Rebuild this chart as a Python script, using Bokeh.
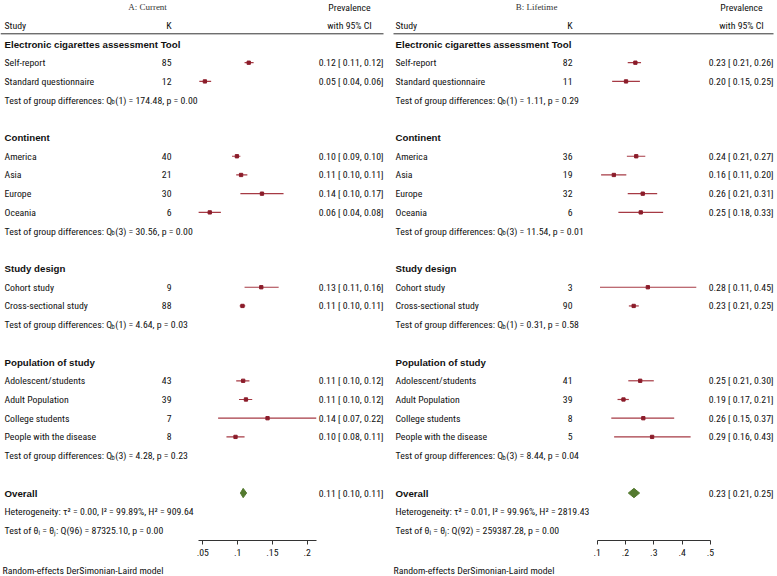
from bokeh.plotting import figure
from bokeh.models import Range1d, LinearAxis, FixedTicker, CustomJSTickFormatter, ColumnDataSource
from bokeh.core.properties import value
from bokeh.embed import file_html
from bokeh.resources import INLINE

# ------------------------------------------------------------------ data
GROUPS = ["Electronic cigarettes assessment Tool", "Continent", "Study design", "Population of study"]
SUBGROUPS = [
    ["Self-report", "Standard questionnaire"],
    ["America", "Asia", "Europe", "Oceania"],
    ["Cohort study", "Cross-sectional study"],
    ["Adolescent/students", "Adult Population", "College students", "People with the disease"],
]
TEST_DF = [1, 3, 1, 3]

# A: Current
CUR_K = [85, 12, 40, 21, 30, 6, 9, 88, 43, 39, 7, 8]
CUR_EST = [0.116, 0.053, 0.099, 0.105, 0.135, 0.060, 0.134, 0.107, 0.108, 0.112, 0.143, 0.097]
CUR_LO = [0.110, 0.045, 0.092, 0.098, 0.104, 0.044, 0.110, 0.103, 0.098, 0.102, 0.072, 0.084]
CUR_HI = [0.123, 0.062, 0.104, 0.114, 0.166, 0.076, 0.159, 0.111, 0.117, 0.121, 0.213, 0.110]
CUR_CI_TEXT = ["0.12 [ 0.11, 0.12]", "0.05 [ 0.04, 0.06]",
               "0.10 [ 0.09, 0.10]", "0.11 [ 0.10, 0.11]", "0.14 [ 0.10, 0.17]", "0.06 [ 0.04, 0.08]",
               "0.13 [ 0.11, 0.16]", "0.11 [ 0.10, 0.11]",
               "0.11 [ 0.10, 0.12]", "0.11 [ 0.10, 0.12]", "0.14 [ 0.07, 0.22]", "0.10 [ 0.08, 0.11]"]
CUR_TEST_Q = ["174.48", "30.56", "4.64", "4.28"]
CUR_TEST_P = ["0.00", "0.00", "0.03", "0.23"]
CUR_OVERALL = [0.108, 0.104, 0.113]
CUR_OVERALL_TEXT = "0.11 [ 0.10, 0.11]"
CUR_HET = "Heterogeneity: \u03c4\u00b2 = 0.00, I\u00b2 = 99.89%, H\u00b2 = 909.64"
CUR_HOM = "Test of \u03b8\u1d62 = \u03b8\u2c7c: Q(96) = 87325.10, p = 0.00"
CUR_TICKS = [0.05, 0.1, 0.15, 0.2]

# B: Lifetime
LIF_K = [82, 11, 36, 19, 32, 6, 3, 90, 41, 39, 8, 5]
LIF_EST = [0.235, 0.202, 0.238, 0.159, 0.261, 0.254, 0.279, 0.229, 0.252, 0.193, 0.263, 0.294]
LIF_LO = [0.208, 0.153, 0.205, 0.114, 0.208, 0.175, 0.110, 0.212, 0.210, 0.172, 0.150, 0.160]
LIF_HI = [0.255, 0.251, 0.270, 0.203, 0.312, 0.333, 0.450, 0.247, 0.300, 0.212, 0.372, 0.430]
LIF_CI_TEXT = ["0.23 [ 0.21, 0.26]", "0.20 [ 0.15, 0.25]",
               "0.24 [ 0.21, 0.27]", "0.16 [ 0.11, 0.20]", "0.26 [ 0.21, 0.31]", "0.25 [ 0.18, 0.33]",
               "0.28 [ 0.11, 0.45]", "0.23 [ 0.21, 0.25]",
               "0.25 [ 0.21, 0.30]", "0.19 [ 0.17, 0.21]", "0.26 [ 0.15, 0.37]", "0.29 [ 0.16, 0.43]"]
LIF_TEST_Q = ["1.11", "11.54", "0.31", "8.44"]
LIF_TEST_P = ["0.29", "0.01", "0.58", "0.04"]
LIF_OVERALL = [0.230, 0.210, 0.250]
LIF_OVERALL_TEXT = "0.23 [ 0.21, 0.25]"
LIF_HET = "Heterogeneity: \u03c4\u00b2 = 0.01, I\u00b2 = 99.96%, H\u00b2 = 2819.43"
LIF_HOM = "Test of \u03b8\u1d62 = \u03b8\u2c7c: Q(92) = 259387.28, p = 0.00"
LIF_TICKS = [0.1, 0.2, 0.3, 0.4, 0.5]

NOTE = "Random-effects DerSimonian-Laird model"

# ------------------------------------------------------------------ layout / style
W, H = 777, 576
ROW0, ROWH = 43.5, 18.71         # row 0 centre and row height in layout px
def row_of(py):
    return (py - ROW0) / ROWH

FONT_NAME = "'Roboto Condensed', 'Liberation Sans', Arial, sans-serif"
FONT = value(FONT_NAME)
BOLD_FONT = value("'Liberation Sans', Arial, sans-serif")
SERIF = value("'Liberation Serif', 'DejaVu Serif', serif")
FS_PX = 9.8
FS = "%.1fpx" % FS_PX
FS_BOLD = "9.7px"
FS_SUB = "6.5px"
TXT = "#111111"
CI_COL = "#a63a44"
MK_COL = "#8b1c2a"
DIA_COL = "#547a2f"
Q_OFF = 106.8                    # width of "Test of group differences: Q" at FS

PANELS = [
    dict(name="L", title="A: Current", k=CUR_K, est=CUR_EST, lo=CUR_LO, hi=CUR_HI, ci=CUR_CI_TEXT,
         tq=CUR_TEST_Q, tp=CUR_TEST_P, ov=CUR_OVERALL, ovt=CUR_OVERALL_TEXT, het=CUR_HET, hom=CUR_HOM,
         ticks=CUR_TICKS, zero_px=167.5, px_per_unit=696.0,
         x_study=4, x_k=171, x_ci=383, x_head=349, x_title=147, line=(0, 383), x_note=2),
    dict(name="R", title="B: Lifetime", k=LIF_K, est=LIF_EST, lo=LIF_LO, hi=LIF_HI, ci=LIF_CI_TEXT,
         tq=LIF_TEST_Q, tp=LIF_TEST_P, ov=LIF_OVERALL, ovt=LIF_OVERALL_TEXT, het=LIF_HET, hom=LIF_HOM,
         ticks=LIF_TICKS, zero_px=568.3, px_per_unit=283.3,
         x_study=395, x_k=572, x_ci=773, x_head=741, x_title=536, line=(393, 773), x_note=393),
]

p = figure(width=W, height=H, output_backend="svg", toolbar_location=None,
           x_range=Range1d(0, W), y_range=Range1d(row_of(H), row_of(0)),
           x_axis_location=None, y_axis_location=None, min_border=0,
           outline_line_color=None, background_fill_color="white", border_fill_color="white")
p.xgrid.grid_line_color = None
p.ygrid.grid_line_color = None

for pn in PANELS:
    z, s = pn["zero_px"], pn["px_per_unit"]
    p.extra_x_ranges[pn["name"]] = Range1d(-z / s, (W - z) / s)

def add_text(x, y, text, align="left", bold=False, size=FS, font=FONT, color=TXT):
    src = ColumnDataSource(dict(x=x, y=y, text=text))
    p.text(x="x", y="y", text="text", source=src, text_align=align, text_baseline="middle",
           text_font=font, text_font_size=size, text_color=color,
           text_font_style="bold" if bold else "normal")

for pn in PANELS:
    rng = pn["name"]
    # header
    add_text([pn["x_title"]], [row_of(6)], [pn["title"]], align="center", font=SERIF,
             size="9px", color="#333333")
    add_text([pn["x_head"]], [row_of(7)], ["Prevalence"], align="center")
    add_text([pn["x_head"]], [row_of(24.5)], ["with 95% CI"], align="center")
    add_text([pn["x_study"]], [row_of(24.5)], ["Study"])
    add_text([pn["x_k"]], [row_of(24.5)], ["K"], align="right")
    p.segment(x0=pn["line"][0], x1=pn["line"][1], y0=row_of(33.3), y1=row_of(33.3),
              line_color="#333333", line_width=1)

    # rows
    head_y, head_t = [], []
    lab_y, lab_t, k_t, ci_t = [], [], [], []
    t1_y, t3_t = [], []
    row, i = 0, 0
    for g, subs in enumerate(SUBGROUPS):
        head_y.append(row); head_t.append(GROUPS[g]); row += 1
        for sname in subs:
            lab_y.append(row); lab_t.append(sname)
            k_t.append(str(pn["k"][i])); ci_t.append(pn["ci"][i])
            row += 1; i += 1
        t1_y.append(row)
        t3_t.append("(%d) = %s, p = %s" % (TEST_DF[g], pn["tq"][g], pn["tp"][g]))
        row += 2
    ov_row = row
    head_y.append(ov_row); head_t.append("Overall")

    add_text([pn["x_study"]] * len(head_y), head_y, head_t, bold=True, size=FS_BOLD, font=BOLD_FONT)
    add_text([pn["x_study"]] * len(lab_y), lab_y, lab_t)
    add_text([pn["x_k"]] * len(lab_y), lab_y, k_t, align="right")
    add_text([pn["x_ci"]] * len(lab_y) + [pn["x_ci"]], lab_y + [ov_row], ci_t + [pn["ovt"]], align="right")

    # test of group differences: "... Q" + subscript b + rest
    qx = pn["x_study"] + Q_OFF
    add_text([pn["x_study"]] * len(t1_y), t1_y, ["Test of group differences: Q"] * len(t1_y))
    add_text([qx + 0.3] * len(t1_y), [y + 0.12 for y in t1_y], ["b"] * len(t1_y), size=FS_SUB)
    add_text([qx + 4.0] * len(t1_y), t1_y, t3_t)

    add_text([pn["x_study"]] * 2, [ov_row + 1, ov_row + 2], [pn["het"], pn["hom"]])
    add_text([pn["x_note"]], [row_of(570)], [NOTE])

    # CI lines + markers
    src = ColumnDataSource(dict(y=lab_y, est=pn["est"], lo=pn["lo"], hi=pn["hi"]))
    p.segment(x0="lo", x1="hi", y0="y", y1="y", source=src, x_range_name=rng,
              line_color=CI_COL, line_width=1.2)
    p.scatter(x="est", y="y", source=src, x_range_name=rng, marker="square", size=3.3,
              fill_color=MK_COL, line_color=MK_COL)

    # overall diamond
    est, lo, hi = pn["ov"]
    hh = 0.25
    p.patch(x=[lo, est, hi, est], y=[ov_row, ov_row - hh, ov_row, ov_row + hh],
            x_range_name=rng, fill_color=DIA_COL, line_color=DIA_COL)

    # axis
    ticks = pn["ticks"]
    b0 = min(min(pn["lo"]), ticks[0])
    b1 = max(max(pn["hi"]), ticks[-1])
    ax = LinearAxis(x_range_name=rng, fixed_location=row_of(540), bounds=(b0, b1),
                    ticker=FixedTicker(ticks=ticks, minor_ticks=[]),
                    formatter=CustomJSTickFormatter(
                        code="return tick.toFixed(2).replace(/0+$/, '').replace(/^0/, '');"),
                    axis_line_color="#333333", major_tick_line_color="#333333",
                    major_tick_in=0, major_tick_out=4, minor_tick_in=0, minor_tick_out=0,
                    major_label_text_font=FONT_NAME, major_label_text_font_size=FS,
                    major_label_text_color=TXT, major_label_standoff=4)
    p.add_layout(ax, "below")

open("out.html", "w").write(file_html(p, INLINE))
